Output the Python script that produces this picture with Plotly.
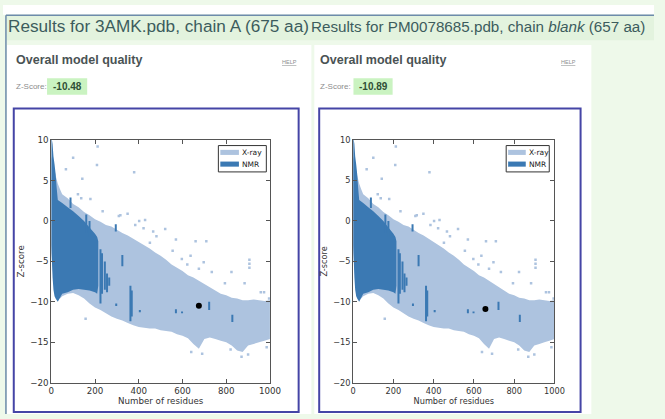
import plotly.graph_objects as go

W, H = 665, 419

# ---------------- data ----------------
XRAY_X = [0, 10, 20, 30, 40, 50, 75, 100, 125, 150, 175, 200, 225, 250, 275, 300,
          325, 350, 375, 400, 425, 450, 475, 500, 525, 550, 575, 600, 625, 650,
          675, 700, 725, 750, 775, 800, 825, 850, 875, 900, 925, 950, 975, 1000]
XRAY_UPPER = [8.0, 7.0, 5.6, 4.6, 3.9, 3.3, 2.8, 2.1, 1.7, 1.1, 0.7, 0.2, -0.1, -0.5,
              -0.7, -1.1, -1.5, -1.8, -2.2, -2.6, -3.0, -3.4, -3.9, -4.3, -4.8, -5.4,
              -5.8, -6.2, -6.7, -7.0, -7.4, -7.8, -8.2, -8.6, -9.0, -9.2, -9.5, -9.6,
              -9.8, -9.8, -9.7, -9.8, -9.9, -9.8]
XRAY_LOWER = [-4.0, -7.0, -9.0, -9.5, -9.6, -9.3, -9.0, -8.9, -9.2, -9.6, -10.2, -10.7,
              -11.0, -11.4, -11.8, -12.1, -12.3, -12.6, -12.9, -13.1, -13.2, -13.3,
              -13.3, -13.5, -13.6, -13.7, -14.0, -14.2, -14.5, -15.2, -15.8, -14.6,
              -14.4, -14.6, -14.8, -15.0, -15.4, -16.0, -16.2, -15.4, -15.2, -15.0,
              -14.8, -14.6]

NMR_X = [0, 3, 6, 10, 15, 20, 25, 30, 40, 50, 75, 100, 125, 150, 175, 200, 210, 215]
NMR_UPPER = [10.0, 10.0, 9.5, 8.0, 7.0, 5.8, 4.0, 2.6, 2.4, 2.2, 1.7, 1.2, 0.6, 0.0,
             -0.8, -1.6, -2.0, -2.5]
NMR_LOWER = [-3.0, -5.0, -7.0, -8.5, -9.3, -9.6, -9.8, -10.0, -9.5, -9.0, -8.8, -8.5,
             -8.4, -8.5, -8.6, -8.8, -9.0, -8.0]

NMR_STREAK_X = [88, 160, 175, 225, 232, 245, 255, 265, 295, 297, 325, 362, 368, 405,
                570, 598, 722, 828]
NMR_STREAK_TOP = [2.9, 0.8, 0.0, -3.5, -4.0, -5.0, -6.5, -7.0, -0.4, -10.2, -4.2, -8.0,
                  -8.6, -11.0, -10.9, -11.2, -10.0, -11.6]
NMR_STREAK_BOTTOM = [1.6, -1.5, -2.0, -10.2, -9.0, -8.5, -8.8, -8.0, -1.3, -10.5, -5.6,
                     -12.4, -11.8, -11.3, -11.4, -11.4, -11.0, -12.5]

XRAY_OUT_X = [212, 100, 67, 142, 137, 379, 309, 349, 521, 422, 481, 709, 597, 622,
              906, 906, 906, 824, 794, 157, 996, 958, 734, 675, 555, 451, 466, 384,
              209, 122, 179, 235, 316, 402, 429, 570, 660, 884, 973, 637, 697,
              870, 900, 985, 820, 640, 690]
XRAY_OUT_Z = [9.2, 7.8, 6.4, 5.2, 2.8, 6.0, 0.6, 0.9, -1.0, -0.9, -1.9, -2.5, -4.7,
              -5.4, -4.8, -5.3, -5.8, -6.3, -7.7, -12.1, -9.6, -8.8, -6.3, -5.9, -3.7,
              -2.7, -1.3, -0.5, 6.9, 3.3, 2.7, 1.2, 0.7, 0.0, 0.1, -2.3, -2.5, -7.7,
              -8.8, -4.3, -5.1,
              -16.8, -16.5, -15.6, -15.9, -16.2, -16.4]

PANEL_TITLES = ["Results for 3AMK.pdb, chain A (675 aa)",
                "Results for PM0078685.pdb, chain <i>blank</i> (657 aa)"]
CHAIN_RESIDUES = [675, 657]
CHAIN_ZSCORES = [-10.48, -10.89]
X_TICKS = [0, 200, 400, 600, 800, 1000]
Y_TICKS = [-20, -15, -10, -5, 0, 5, 10]
SERIES_NAMES = ["X-ray", "NMR"]

# ---------------- styling / layout ----------------
XRAY_COLOR = "#adc3df"
NMR_COLOR = "#3b79b3"
PAGE_FONT = "Liberation Sans, Arial, sans-serif"
PLOT_FONT = "DejaVu Sans, sans-serif"


def px(x):
    return x / W


def py(y):
    return 1 - y / H


panels = [
    dict(plot=(49.3, 272.7), box=(11, 302), white=(4, 315), zbox=(45, 86),
         tx=3, tsize=17.2, ox=11, helpx=283, leg=(220, 269), sw=(222, 241), tick=8.7),
    dict(plot=(357.7, 563.3), box=(323, 590), white=(318, 601), zbox=(358, 398),
         tx=313, tsize=15.2, ox=322, helpx=568, leg=(514, 558), sw=(516, 534), tick=8.2),
]
PLOT_TOP, PLOT_BOTTOM = 138.3, 387.0
LEG_TOP, LEG_BOTTOM = 144, 171
LEG_ROWS = [151, 163]

fig = go.Figure()
shapes = []
annotations = []

# page decoration
shapes.append(dict(type="rect", xref="paper", yref="paper", x0=0, x1=1, y0=py(10), y1=1,
                   fillcolor="white", line_width=0, layer="below"))
shapes.append(dict(type="rect", xref="paper", yref="paper", x0=px(3), x1=1, y0=py(36),
                   y1=py(10), fillcolor="#e3f3de", line_width=0, layer="below"))
shapes.append(dict(type="line", xref="paper", yref="paper", x0=px(3), x1=1, y0=py(10.5),
                   y1=py(10.5), line=dict(color="#6d8bab", width=1.5)))
shapes.append(dict(type="line", xref="paper", yref="paper", x0=px(3), x1=px(3), y0=0,
                   y1=py(10.5), line=dict(color="#6d8bab", width=1.5)))

for i, p in enumerate(panels):
    suffix = "" if i == 0 else str(i + 1)
    xa, ya = "x" + suffix, "y" + suffix

    # white panel, blue box, z-score box
    shapes.append(dict(type="rect", xref="paper", yref="paper", x0=px(p["white"][0]),
                       x1=px(p["white"][1]), y0=0, y1=py(41), fillcolor="white",
                       line_width=0, layer="below"))
    shapes.append(dict(type="rect", xref="paper", yref="paper", x0=px(p["box"][0]),
                       x1=px(p["box"][1]), y0=py(417), y1=py(106),
                       line=dict(color="#4545a6", width=2), layer="below"))
    shapes.append(dict(type="rect", xref="paper", yref="paper", x0=px(p["zbox"][0]),
                       x1=px(p["zbox"][1]), y0=py(92), y1=py(75), fillcolor="#caf3c1",
                       line_width=0, layer="below"))

    annotations += [
        dict(text=PANEL_TITLES[i], x=px(p["tx"]), y=py(22), xref="paper", yref="paper",
             xanchor="left", yanchor="middle", showarrow=False,
             font=dict(family=PAGE_FONT, size=p["tsize"], color="#3c5c5d")),
        dict(text="<b>Overall model quality</b>", x=px(p["ox"]), y=py(56), xref="paper",
             yref="paper", xanchor="left", yanchor="middle", showarrow=False,
             font=dict(family=PAGE_FONT, size=12.5, color="#4a5354")),
        dict(text="<u>HELP</u>", x=px(p["helpx"]), y=py(58), xref="paper", yref="paper",
             xanchor="left", yanchor="middle", showarrow=False,
             font=dict(family=PAGE_FONT, size=5.5, color="#8a9090")),
        dict(text="Z-Score:", x=px(p["ox"]), y=py(83.5), xref="paper", yref="paper",
             xanchor="left", yanchor="middle", showarrow=False,
             font=dict(family=PAGE_FONT, size=8, color="#8c8c8c")),
        dict(text="<b>%.2f</b>" % CHAIN_ZSCORES[i],
             x=px((p["zbox"][0] + p["zbox"][1]) / 2), y=py(83.5), xref="paper",
             yref="paper", xanchor="center", yanchor="middle", showarrow=False,
             font=dict(family=PAGE_FONT, size=10, color="#2f4f35")),
    ]

    # legend drawn inside the plot frame (matplotlib style)
    shapes.append(dict(type="rect", xref="paper", yref="paper", x0=px(p["leg"][0]),
                       x1=px(p["leg"][1]), y0=py(LEG_BOTTOM), y1=py(LEG_TOP),
                       fillcolor="white", line=dict(color="#333", width=1)))
    for name, color, row in zip(SERIES_NAMES, [XRAY_COLOR, NMR_COLOR], LEG_ROWS):
        shapes.append(dict(type="rect", xref="paper", yref="paper", x0=px(p["sw"][0]),
                           x1=px(p["sw"][1]), y0=py(row + 2.6), y1=py(row - 2.6),
                           fillcolor=color, line_width=0))
        annotations.append(dict(text=name, x=px(p["sw"][1] + 1.5), y=py(row),
                                xref="paper", yref="paper", xanchor="left",
                                yanchor="middle", showarrow=False,
                                font=dict(family=PLOT_FONT, size=7.5, color="#222")))

    # X-ray cloud
    fig.add_trace(go.Scatter(
        x=XRAY_X + XRAY_X[::-1], y=XRAY_UPPER + XRAY_LOWER[::-1], mode="none",
        fill="toself", fillcolor=XRAY_COLOR, name=SERIES_NAMES[0], showlegend=False,
        xaxis=xa, yaxis=ya, hoverinfo="skip"))
    fig.add_trace(go.Scatter(
        x=XRAY_OUT_X, y=XRAY_OUT_Z, mode="markers", showlegend=False,
        marker=dict(symbol="square", size=2.5, color=XRAY_COLOR), xaxis=xa, yaxis=ya))
    # NMR cloud
    fig.add_trace(go.Scatter(
        x=NMR_X + NMR_X[::-1], y=NMR_UPPER + NMR_LOWER[::-1], mode="none",
        fill="toself", fillcolor=NMR_COLOR, name=SERIES_NAMES[1], showlegend=False,
        xaxis=xa, yaxis=ya, hoverinfo="skip"))
    sx, sy = [], []
    for x, t, b in zip(NMR_STREAK_X, NMR_STREAK_TOP, NMR_STREAK_BOTTOM):
        sx += [x, x, None]
        sy += [t, b, None]
    fig.add_trace(go.Scatter(x=sx, y=sy, mode="lines", showlegend=False,
                             line=dict(color=NMR_COLOR, width=2), xaxis=xa, yaxis=ya))
    # this chain
    fig.add_trace(go.Scatter(x=[CHAIN_RESIDUES[i]], y=[CHAIN_ZSCORES[i]], mode="markers",
                             showlegend=False, marker=dict(color="black", size=6),
                             xaxis=xa, yaxis=ya))

    axis_common = dict(showgrid=False, zeroline=False, showline=True, linecolor="#555",
                       linewidth=1, mirror="allticks", ticks="inside", ticklen=4,
                       tickcolor="#555",
                       tickfont=dict(family=PLOT_FONT, size=p["tick"], color="#333"))
    fig.update_layout(**{
        "xaxis" + suffix: dict(axis_common, domain=[px(p["plot"][0]), px(p["plot"][1])],
                               range=[0, 1000], tickvals=X_TICKS, anchor=ya,
                               title=dict(text="Number of residues", standoff=2,
                                          font=dict(family=PLOT_FONT, size=p["tick"],
                                                    color="#333"))),
        "yaxis" + suffix: dict(axis_common, domain=[py(PLOT_BOTTOM), py(PLOT_TOP)],
                               range=[-20, 10], tickvals=Y_TICKS, anchor=xa,
                               title=dict(text="Z-score", standoff=4,
                                          font=dict(family=PLOT_FONT, size=p["tick"],
                                                    color="#333"))),
    })

fig.update_layout(
    width=W, height=H, margin=dict(l=0, r=0, t=0, b=0),
    paper_bgcolor="#eef9ea", plot_bgcolor="white",
    shapes=shapes, annotations=annotations, showlegend=False,
)

fig.write_html(
    "out.html",
    config={"displayModeBar": False, "staticPlot": True},
    post_script=("document.documentElement.style.margin='0';"
                 "document.documentElement.style.overflow='hidden';"
                 "document.body.style.margin='0';"
                 "document.body.style.overflow='hidden';"),
)
